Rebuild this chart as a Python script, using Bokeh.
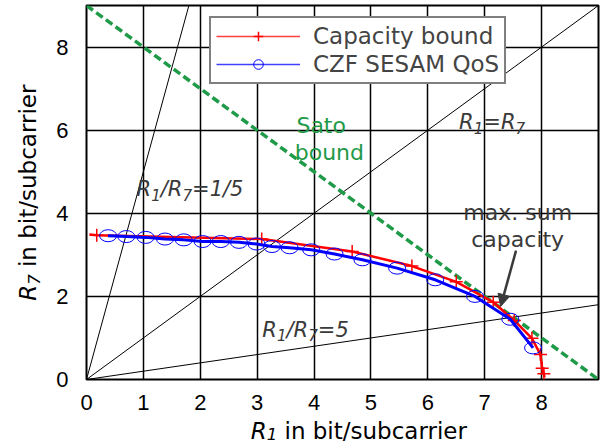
import math
from bokeh.plotting import figure
from bokeh.layouts import row, column
from bokeh.models import Range1d, Legend, LegendItem, Arrow, NormalHead, FixedTicker, Label
from bokeh.embed import file_html
from bokeh.resources import INLINE

# Capacity bound (red line; markers at flagged points)
cap_x = [0.05, 0.18, 3.08, 4.67, 5.72, 6.50, 7.15, 7.52, 7.83, 7.98, 8.01, 8.04, 8.05]
cap_y = [3.49, 3.47, 3.38, 3.08, 2.73, 2.35, 1.86, 1.42, 0.99, 0.60, 0.27, 0.14, 0.05]
cap_marked = [False, True, True, True, True, True, True, True, True, True, True, True, False]

# CZF SESAM QoS (blue line with circles)
czf_x = [0.38, 0.70, 1.04, 1.38, 1.71, 2.04, 2.36, 2.68, 2.99, 3.26, 3.57, 3.95,
         4.36, 4.85, 5.46, 6.13, 6.83, 7.45, 7.85]
czf_y = [3.46, 3.44, 3.42, 3.38, 3.36, 3.32, 3.32, 3.30, 3.26, 3.20, 3.17, 3.12,
         3.02, 2.88, 2.68, 2.40, 2.00, 1.45, 0.76]

# Sato bound
sato_x = [0, 9]
sato_y = [9, 0]

# Rate-ratio reference lines R7 = slope * R1
ratio_slopes = [1.0, 5.0, 0.2]

x_ticks = [0, 1, 2, 3, 4, 5, 6, 7, 8]
y_ticks = [0, 2, 4, 6, 8]
x_grid = [0, 1, 2, 3, 4, 5, 6, 7, 8, 9]

FONT = "DejaVu Sans"
TICK_FONT = "Liberation Sans"
GREEN = "#1f9a48"
GREY = "#3a3a3a"

YLAB_W = 48
MAIN_W = 606 - YLAB_W
MAIN_H = 413
XLAB_H = 443 - MAIN_H

p = figure(width=MAIN_W, height=MAIN_H, x_range=Range1d(0, 9), y_range=Range1d(0, 9),
           output_backend="svg", toolbar_location=None,
           min_border_left=38, min_border_right=8, min_border_top=5, min_border_bottom=34)

p.outline_line_color = "black"
p.outline_line_width = 2
p.outline_line_alpha = 1

p.xgrid.ticker = FixedTicker(ticks=x_grid)
p.ygrid.ticker = FixedTicker(ticks=y_ticks)
for g in (p.xgrid, p.ygrid):
    g.grid_line_color = "black"
    g.grid_line_width = 1.5
    g.grid_line_alpha = 1

p.xaxis.ticker = FixedTicker(ticks=x_ticks)
p.yaxis.ticker = FixedTicker(ticks=y_ticks)
for ax in (p.xaxis, p.yaxis):
    ax.axis_line_color = None
    ax.major_tick_line_color = None
    ax.minor_tick_line_color = None
    ax.major_label_text_font = TICK_FONT
    ax.major_label_text_font_size = "22px"
    ax.major_label_text_color = "black"
p.xaxis.major_label_standoff = 9
p.yaxis.major_label_standoff = 12

# ratio lines
for s in ratio_slopes:
    xe = min(9.0, 9.0 / s)
    p.line([0, xe], [0, s * xe], line_color="black", line_width=1)

# Sato bound
p.line(sato_x, sato_y, line_color=GREEN, line_width=3.5, line_dash="8 4")

# Capacity bound
p.line(cap_x, cap_y, line_color="red", line_width=2.5)
mx = [x for x, m in zip(cap_x, cap_marked) if m]
my = [y for y, m in zip(cap_y, cap_marked) if m]
p.scatter(mx, my, marker="cross", size=13, line_color="red", line_width=1.5)

# CZF SESAM QoS
p.line(czf_x, czf_y, line_color="blue", line_width=3)
p.ellipse(czf_x, czf_y, width=17, height=12, width_units="screen",
          height_units="screen", fill_color=None, line_color="blue", line_width=1)

# legend-only renderers (thin lines as in the reference legend), placed off the visible range
off = [-5, -4]
lg_cap_line = p.line(off, off, line_color="red", line_width=1.5, line_alpha=0.75)
lg_cap_mark = p.scatter(off, off, marker="cross", size=13, line_color="red", line_width=1.5)
lg_czf_line = p.line(off, off, line_color="blue", line_width=1.5, line_alpha=0.75)
lg_czf_mark = p.scatter(off, off, marker="circle", size=12, fill_color=None,
                        line_color="blue", line_width=1)

legend = Legend(items=[LegendItem(label="Capacity bound", renderers=[lg_cap_line, lg_cap_mark]),
                       LegendItem(label="CZF SESAM QoS", renderers=[lg_czf_line, lg_czf_mark])],
                location=(123, 295), border_line_color="black", border_line_width=2,
                background_fill_color="white", background_fill_alpha=1,
                label_text_font=FONT, label_text_font_size="23px",
                glyph_width=84, glyph_height=24, label_standoff=13,
                padding=5, spacing=2, margin=0, label_height=24)
p.add_layout(legend)

# advance widths (em) of DejaVu Sans
ADV = {" ": .318, "/": .337, ".": .318, "=": .838, "R": .695, "a": .613, "b": .635,
       "c": .550, "d": .635, "e": .615, "i": .278, "m": .974, "n": .634, "o": .612,
       "p": .635, "r": .411, "s": .521, "t": .392, "u": .634, "x": .592, "y": .592}

def tw(t, size):
    return sum(ADV.get(c, .636) for c in t) * size

def rich(fig, x, y, pieces, size, color, align="left", angle=0.0, drop_frac=0.27):
    sub = 0.72 * size
    total = sum(tw(t, sub if st == "s" else size) for t, st in pieces)
    pos = 0.0 if align == "left" else -total / 2.0
    for t, st in pieces:
        sz = sub if st == "s" else size
        drop = drop_frac * size if st == "s" else 0.0
        lead = len(t) - len(t.lstrip(" "))
        pos += tw(" " * lead, sz)
        t = t.lstrip(" ")
        if angle == 0.0:
            xo, yo = pos, -drop
        else:
            xo, yo = drop, pos
        fig.add_layout(Label(x=x, y=y, x_offset=xo, y_offset=yo, text=t, angle=angle,
                             text_font=FONT, text_font_size=f"{sz:.1f}px",
                             text_font_style="italic" if st in ("i", "s") else "normal",
                             text_color=color, text_baseline="alphabetic", text_align="left"))
        pos += tw(t, sz)

# annotations inside the plot
rich(p, 0.88, 4.58, [("R", "i"), ("1", "s"), ("/R", "i"), ("7", "s"), ("=1/5", "i")], 21, GREY)
rich(p, 6.55, 6.20, [("R", "i"), ("1", "s"), ("=R", "i"), ("7", "s")], 21, GREY)
rich(p, 3.09, 1.20, [("R", "i"), ("1", "s"), ("/R", "i"), ("7", "s"), ("=5", "i")], 21, GREY)
rich(p, 3.69, 6.12, [("Sato", "n")], 22, GREEN)
rich(p, 3.66, 5.47, [("bound", "n")], 22, GREEN)
rich(p, 7.58, 4.01, [("max. sum", "n")], 22, GREY, align="center")
rich(p, 7.58, 3.36, [("capacity", "n")], 22, GREY, align="center")

p.add_layout(Arrow(end=NormalHead(size=12, fill_color=GREY, line_color=GREY),
                   x_start=7.55, y_start=3.1, x_end=7.28, y_end=1.76,
                   line_color=GREY, line_width=2.5))

def label_fig(w, h):
    f = figure(width=w, height=h, x_range=Range1d(0, w), y_range=Range1d(0, h),
               output_backend="svg", toolbar_location=None,
               min_border_left=0, min_border_right=0, min_border_top=0, min_border_bottom=0)
    f.axis.visible = False
    f.grid.visible = False
    f.outline_line_color = None
    return f

# axis titles (pixel coordinates of their own strips)
ylab = label_fig(YLAB_W, 443)
rich(ylab, 27, 251, [("R", "i"), ("7", "s"), (" in bit/subcarrier", "n")], 23, "black",
     align="center", angle=math.pi / 2)

xlab = label_fig(MAIN_W, XLAB_H)
rich(xlab, 345 - YLAB_W, 13, [("R", "i"), ("1", "s"), (" in bit/subcarrier", "n")], 23, "black",
     align="center", drop_frac=0.15)

layout = row(ylab, column(p, xlab, spacing=0), spacing=0)

open("out.html", "w").write(file_html(layout, INLINE))
